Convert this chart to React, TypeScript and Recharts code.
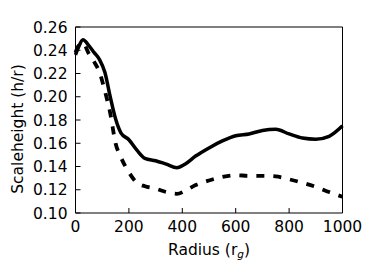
import React from "react";
import { LineChart, Line, XAxis, YAxis } from "recharts";

const radius = [0, 12, 28, 50, 70, 90, 110, 130, 150, 170, 200, 230, 260, 300, 340, 380, 410, 450, 500, 550, 600, 650, 700, 750, 800, 850, 900, 950, 1000];
const solid = [0.236, 0.243, 0.249, 0.244, 0.238, 0.232, 0.221, 0.2, 0.181, 0.169, 0.163, 0.154, 0.147, 0.145, 0.142, 0.139, 0.142, 0.149, 0.156, 0.162, 0.1665, 0.168, 0.171, 0.172, 0.168, 0.1645, 0.1635, 0.166, 0.175];
const dashed = [0.238, 0.244, 0.246, 0.237, 0.23, 0.221, 0.205, 0.186, 0.16, 0.148, 0.135, 0.126, 0.123, 0.121, 0.118, 0.1165, 0.119, 0.124, 0.128, 0.131, 0.1325, 0.132, 0.132, 0.1315, 0.129, 0.126, 0.1225, 0.118, 0.114];

const xTicks = [0, 200, 400, 600, 800, 1000];
const yTicks = [0.1, 0.12, 0.14, 0.16, 0.18, 0.2, 0.22, 0.24, 0.26];

const data = radius.map((r, i) => ({ r, solid: solid[i], dashed: dashed[i] }));

const FONT = "DejaVu Sans";
const tickStyle = { fontSize: 15.5, fill: "#000", fontFamily: FONT };
const axisLine = { stroke: "#000", strokeWidth: 1 };

const XLabel = ({ viewBox }: any) => {
  const cx = viewBox.x + viewBox.width / 2;
  return (
    <text x={cx} y={255} textAnchor="middle" fontSize={15.5} fontFamily={FONT} fill="#000">
      Radius (r
      <tspan fontSize={10.5} fontStyle="italic" dy={3}>g</tspan>
      <tspan dy={-3}>)</tspan>
    </text>
  );
};

const YLabel = () => (
  <text
    x={22.5}
    y={129}
    transform="rotate(-90 22.5 129)"
    textAnchor="middle"
    fontSize={15.5}
    fontFamily={FONT}
    fill="#000"
  >
    Scaleheight (h/r)
  </text>
);

export default function App() {
  return (
    <div style={{ position: "fixed", left: 0, top: 0, width: 382, height: 272, background: "#fff" }}>
      <LineChart width={382} height={272} data={data} margin={{ top: 26, right: 38.5, bottom: 0, left: 0 }}>
        <XAxis
          dataKey="r"
          type="number"
          domain={[0, 1000]}
          ticks={xTicks}
          height={59}
          tick={tickStyle}
          tickSize={-5}
          tickMargin={13}
          axisLine={axisLine}
          tickLine={{ stroke: "#000" }}
          label={<XLabel />}
        />
        <XAxis
          xAxisId="top"
          orientation="top"
          dataKey="r"
          type="number"
          domain={[0, 1000]}
          ticks={xTicks}
          height={1}
          tick={false}
          tickSize={-5}
          axisLine={axisLine}
          tickLine={{ stroke: "#000" }}
        />
        <YAxis
          type="number"
          domain={[0.1, 0.26]}
          ticks={yTicks}
          width={75.5}
          tick={tickStyle}
          tickFormatter={(v: number) => v.toFixed(2)}
          tickSize={-5}
          tickMargin={13}
          axisLine={axisLine}
          tickLine={{ stroke: "#000" }}
          allowDataOverflow
          label={<YLabel />}
        />
        <YAxis
          yAxisId="right"
          orientation="right"
          type="number"
          domain={[0.1, 0.26]}
          ticks={yTicks}
          width={1}
          tick={false}
          tickSize={-5}
          axisLine={axisLine}
          tickLine={{ stroke: "#000" }}
        />
        <Line
          dataKey="solid"
          type="monotone"
          stroke="#000"
          strokeWidth={3.5}
          dot={false}
          activeDot={false}
          isAnimationActive={false}
        />
        <Line
          dataKey="dashed"
          type="monotone"
          stroke="#000"
          strokeWidth={3.8}
          strokeDasharray="8 9"
          dot={false}
          activeDot={false}
          isAnimationActive={false}
        />
      </LineChart>
    </div>
  );
}
